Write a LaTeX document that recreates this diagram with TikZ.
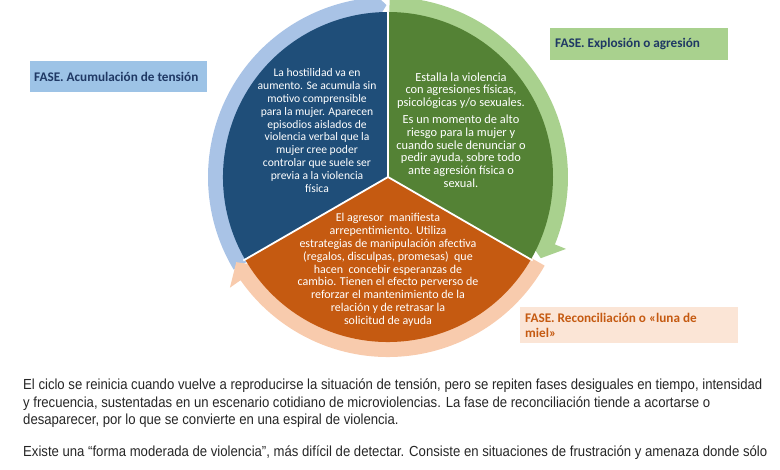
\documentclass[tikz,border=0pt]{standalone}
\usepackage{fontspec}
\setmainfont{Carlito}
\newfontfamily\arialfont[FakeStretch=0.9]{Liberation Sans}
\usetikzlibrary{positioning}

\definecolor{tensionDark}{HTML}{1F4E79}
\definecolor{tensionLight}{HTML}{A9C3E6}
\definecolor{tensionBox}{HTML}{9DC3E6}
\definecolor{burstDark}{HTML}{548235}
\definecolor{burstLight}{HTML}{A9D18E}
\definecolor{calmDark}{HTML}{C55A11}
\definecolor{calmLight}{HTML}{F8CBAD}
\definecolor{calmBox}{HTML}{FBE5D6}
\definecolor{navy}{HTML}{1F3864}

\tikzset{
  phase/.style={anchor=north west, inner xsep=4, inner ysep=0, align=flush left,
    font=\frenchspacing\bfseries\fontsize{13.2}{15}\selectfont},
  slice/.style={text=white, align=center, inner sep=0,
    font=\fontsize{11.6}{12.8}\selectfont},
  body/.style={anchor=west, inner sep=0, text=black!85,
    font=\arialfont\fontsize{14.6}{17}\selectfont}
}

\begin{document}
\begin{tikzpicture}[x=1pt,y=1pt]

  \useasboundingbox (0,0) rectangle (780,-470);

  \begin{scope}[shift={(388,-177)}]
  % circular arrows
  \fill[tensionLight] (211:180) arc[start angle=211,end angle=97,radius=180]
    -- (97:194) -- (90.5:172) -- (97:146) -- (97:152)
    arc[start angle=97,end angle=211,radius=152] -- cycle;
  \fill[burstLight] (89.5:180) arc[start angle=89.5,end angle=-22,radius=180]
    -- (-22:192) -- (-28:173) -- (-22:145) -- (-22:152)
    arc[start angle=-22,end angle=89.5,radius=152] -- cycle;
  \fill[calmLight] (-29.5:180) arc[start angle=-29.5,end angle=-145,radius=180]
    -- (-145:193) -- (-150.7:174) -- (-145:155) -- (-145:152)
    arc[start angle=-145,end angle=-29.5,radius=152] -- cycle;

  % pie
  \fill[tensionDark] (0,0) -- (210:165) arc[start angle=210,end angle=90,radius=165] -- cycle;
  \fill[burstDark] (0,0) -- (90:165) arc[start angle=90,end angle=-30,radius=165] -- cycle;
  \fill[calmDark] (0,0) -- (-30:165) arc[start angle=-30,end angle=-150,radius=165] -- cycle;
  \draw[white, line width=1.8] (90:165) -- (0,0) -- (210:167);
  \draw[white, line width=1.8] (0,0) -- (-30:167);
  \end{scope}

  \node[slice] (tension) at (317,-130.5) {La hostilidad va en\\ aumento. Se acumula sin\\
    motivo comprensible\\ para la mujer. Aparecen\\ episodios aislados de\\
    violencia verbal que la\\ mujer cree poder\\ controlar que suele ser\\
    previa a la violencia\\ física};
  \node[slice, font=\fontsize{12.4}{12.8}\selectfont] (burst) at (461,-130)
    {Estalla la violencia\\ con agresiones físicas,\\
    psicológicas y/o sexuales.\\[4pt] Es un momento de alto\\ riesgo para la mujer y\\
    cuando suele denunciar o\\ pedir ayuda, sobre todo\\ ante agresión física o\\ sexual.};
  \node[slice, font=\fontsize{12}{12.8}\selectfont] (calm) at (388,-270)
    {El agresor\ \ manifiesta\\ arrepentimiento. Utiliza\\
    estrategias de manipulación afectiva\\ (regalos, disculpas, promesas)\ \ que\\
    hacen\ \ concebir esperanzas de\\ cambio. Tienen el efecto perverso de\\
    reforzar el mantenimiento de la\\ relación y de retrasar la\\ solicitud de ayuda};

  \node[phase, fill=tensionBox, text=navy, text width=169, minimum height=31]
    (tensionlbl) at (30,-61) {FASE. Acumulación de tensión};
  \node[phase, fill=burstLight, text=navy, inner xsep=5, text width=168, minimum height=32]
    (burstlbl) at (550,-28) {FASE. Explosión o agresión};
  \node[phase, fill=calmBox, text=calmDark, inner xsep=5, text width=208, minimum height=36]
    (calmlbl) at (520,-307) {FASE. Reconciliación o «luna de\\ miel»};

  \draw (23,-386) node[body] (cycle1) {El ciclo se reinicia cuando vuelve a reproducirse la situación de tensión, pero se repiten fases desiguales en tiempo, intensidad}
  ++(0,-17.5) node[body] (cycle2) {y frecuencia, sustentadas en un escenario cotidiano de microviolencias. La fase de reconciliación tiende a acortarse o}
  ++(0,-17.5) node[body] (cycle3) {desaparecer, por lo que se convierte en una espiral de violencia.};

  \draw (23,-453) node[body] (mild1) {Existe una “forma moderada de violencia”, más difícil de detectar. Consiste en situaciones de frustración y amenaza donde sólo};

\end{tikzpicture}
\end{document}
